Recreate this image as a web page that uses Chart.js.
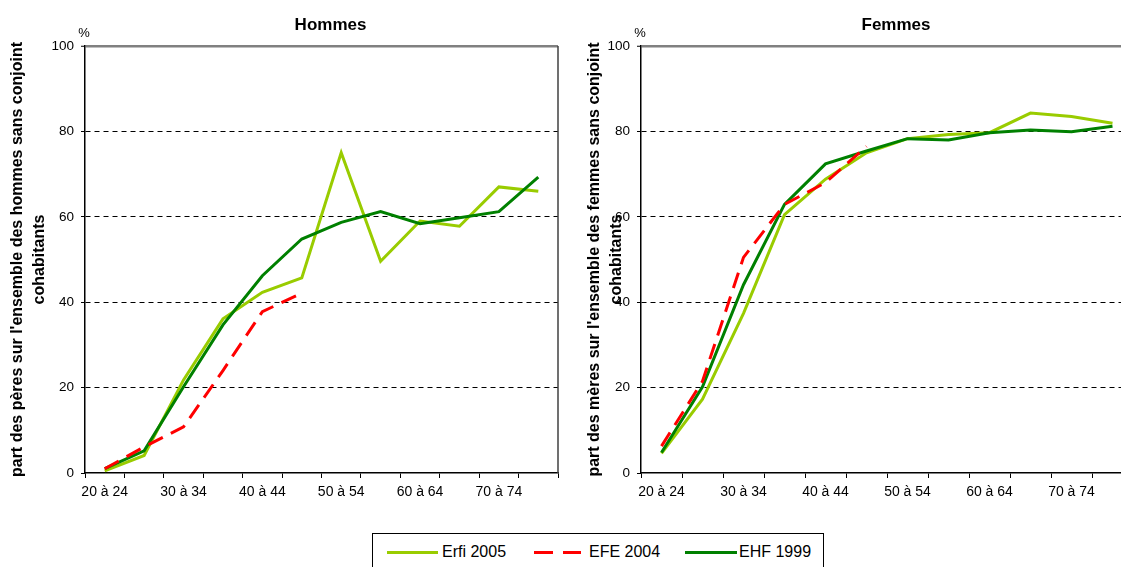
<!DOCTYPE html>
<html>
<head>
<meta charset="utf-8">
<script src="https://cdn.jsdelivr.net/npm/chart.js@4.4.0/dist/chart.umd.min.js"></script>
<style>
  html, body { margin: 0; padding: 0; background: #fff; overflow: hidden; width: 1121px; height: 567px; }
  .panel { position: absolute; top: 0; height: 520px; }
  #legend { position: absolute; left: 372px; top: 533px; width: 452px; height: 45px; border: 1px solid #000; box-sizing: border-box;
            font-family: "Liberation Sans", Arial, sans-serif; font-size: 16px; color: #000; }
  #legend .sample { position: absolute; height: 0; border-top: 3px solid; top: 17px; }
  #legend .txt { position: absolute; top: 9px; white-space: nowrap; }
</style>
</head>
<body>
<div class="panel" style="left:0; width:577px;"><canvas id="chartHommes"></canvas></div>
<div class="panel" style="left:577px; width:560px;"><canvas id="chartFemmes"></canvas></div>
<div id="legend"></div>
<script>
// age groups (every other one is labelled on the axis)
var ageGroups = ['20 à 24', '25 à 29', '30 à 34', '35 à 39', '40 à 44', '45 à 49',
                 '50 à 54', '55 à 59', '60 à 64', '65 à 69', '70 à 74', '75 à 79'];
var yTicks = [0, 20, 40, 60, 80, 100];

var seriesNames = ['Erfi 2005', 'EFE 2004', 'EHF 1999'];
var seriesColors = ['#99cc00', '#ff0000', '#008000'];

// Hommes
var erfiHommes = [0.5, 4.1, 21.8, 36.1, 42.3, 45.7, 75.0, 49.6, 59.0, 57.8, 67.0, 66.0];
var efeHommes  = [1.0, 6.1, 10.8, 24.0, 37.8, 42.1];
var ehfHommes  = [1.0, 5.2, 20.2, 34.7, 46.2, 54.8, 58.7, 61.2, 58.4, 59.8, 61.2, 69.3];

// Femmes
var erfiFemmes = [4.6, 17.3, 37.4, 60.5, 68.8, 75.0, 78.3, 79.3, 79.7, 84.3, 83.5, 81.9];
var efeFemmes  = [6.3, 21.5, 50.5, 62.9, 68.0, 76.5];
var ehfFemmes  = [4.8, 20.2, 44.1, 62.9, 72.4, 75.4, 78.3, 78.0, 79.7, 80.3, 79.9, 81.2];

var FONT = '"Liberation Sans", Arial, sans-serif';

// title, % sign and right frame line
var decor = {
    id: 'decor',
    afterDraw: function(chart, args, opts) {
        var ctx = chart.ctx, a = chart.chartArea;
        ctx.save();
        ctx.strokeStyle = '#404040';
        ctx.lineWidth = 1.5;
        ctx.beginPath();
        ctx.moveTo(a.right, a.top);
        ctx.lineTo(a.right, a.bottom);
        ctx.stroke();
        ctx.fillStyle = '#000';
        ctx.textAlign = 'center';
        ctx.textBaseline = 'alphabetic';
        ctx.font = 'bold 17px ' + FONT;
        ctx.fillText(opts.title, (a.left + a.right) / 2 + 9, 30);
        ctx.font = '13px ' + FONT;
        ctx.fillText('%', a.left - 1, 37);
        ctx.restore();
    }
};

function makeChart(id, title, yTitle, erfi, efe, ehf, yWidth, padRight) {
    var sets = [erfi, efe, ehf];
    var order = [2, 0, 1];
    var datasets = [];
    for (var i = 0; i < 3; i++) {
        datasets.push({
            label: seriesNames[i],
            data: sets[i],
            borderColor: seriesColors[i],
            backgroundColor: seriesColors[i],
            borderWidth: 3,
            borderDash: i === 1 ? [16, 9] : [],
            pointRadius: 0,
            tension: 0,
            fill: false,
            order: order[i]
        });
    }
    return new Chart(document.getElementById(id), {
        type: 'line',
        data: { labels: ageGroups, datasets: datasets },
        plugins: [decor],
        options: {
            responsive: true,
            maintainAspectRatio: false,
            animation: false,
            layout: { padding: { top: 46, bottom: 7, left: 0, right: padRight } },
            plugins: {
                legend: { display: false },
                tooltip: { enabled: false },
                decor: { title: title }
            },
            scales: {
                x: {
                    type: 'category',
                    offset: true,
                    grid: { display: true, drawOnChartArea: false, drawTicks: true, tickLength: 5, color: '#000', offset: true },
                    border: { display: true, color: '#000', width: 1.5 },
                    ticks: {
                        autoSkip: false, maxRotation: 0, padding: 6, color: '#000',
                        font: { family: FONT, size: 14 },
                        callback: function(v, i) { return i % 2 === 0 ? ageGroups[i] : ''; }
                    },
                    afterFit: function(s) { s.height = 40; }
                },
                y: {
                    min: 0, max: 100,
                    afterBuildTicks: function(s) { s.ticks = yTicks.map(function(v) { return { value: v }; }); },
                    grid: {
                        color: function(c) {
                            if (!c.tick) return '#000';
                            if (c.tick.value === 100) return '#808080';
                            if (c.tick.value === 0) return 'rgba(0,0,0,0)';
                            return '#000';
                        },
                        lineWidth: function(c) { return c.tick && c.tick.value === 100 ? 2.5 : 1; },
                        tickColor: '#000', tickWidth: 1, tickLength: 4
                    },
                    border: {
                        display: true, color: '#000', width: 1.5,
                        dash: function(c) { return c.tick && c.tick.value !== 100 ? [5, 4] : []; }
                    },
                    ticks: { padding: 7, color: '#000', font: { family: FONT, size: 13.5 } },
                    title: {
                        display: true, text: yTitle, color: '#000',
                        font: { family: FONT, size: 16, weight: 'bold', lineHeight: 1.4 },
                        padding: { top: 6, bottom: 0 }
                    },
                    afterFit: function(s) { s.width = yWidth; }
                }
            }
        }
    });
}

makeChart('chartHommes', 'Hommes',
    ["part des pères sur l'ensemble des hommes sans conjoint", 'cohabitants'],
    erfiHommes, efeHommes, ehfHommes, 85, 19);
makeChart('chartFemmes', 'Femmes',
    ["part des mères sur l'ensemble des femmes sans conjoint", 'cohabitants'],
    erfiFemmes, efeFemmes, ehfFemmes, 64, 4);

// legend
var legend = document.getElementById('legend');
var samples = [
    { parts: [[14, 51]], text: 69 },
    { parts: [[161, 19], [190, 18]], text: 216 },
    { parts: [[312, 52]], text: 366 }
];
for (var k = 0; k < 3; k++) {
    samples[k].parts.forEach(function(p) {
        var d = document.createElement('div');
        d.className = 'sample';
        d.style.left = p[0] + 'px';
        d.style.width = p[1] + 'px';
        d.style.borderColor = seriesColors[k];
        legend.appendChild(d);
    });
    var t = document.createElement('div');
    t.className = 'txt';
    t.style.left = samples[k].text + 'px';
    t.textContent = seriesNames[k];
    legend.appendChild(t);
}
</script>
</body>
</html>
